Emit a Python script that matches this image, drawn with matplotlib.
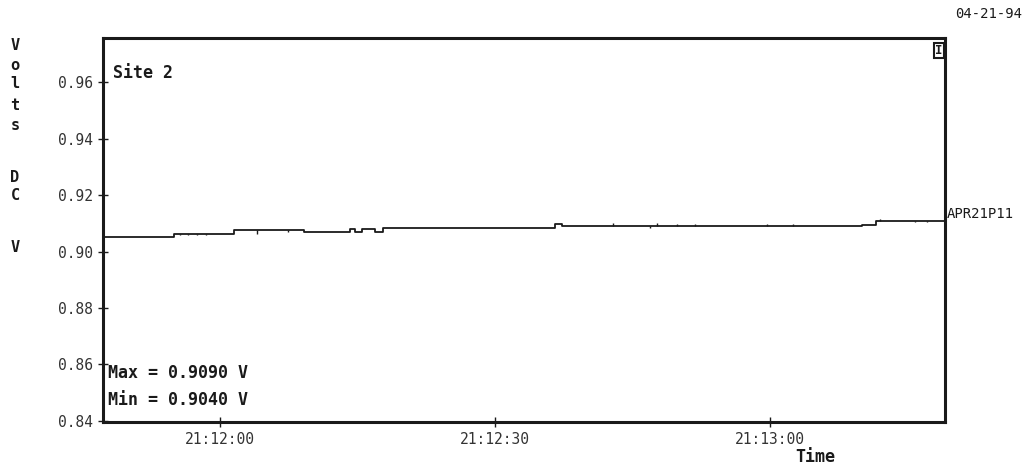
import numpy as np
import matplotlib.pyplot as plt
from matplotlib.ticker import FuncFormatter

# seconds relative to 21:12:00, step levels (V DC)
t_steps = [-12.8, -5.1, 1.5, 9.1, 14.2, 14.7, 15.5, 16.9, 17.8, 36.5, 37.3, 70.1, 71.6, 79.1]
v_steps = [0.9053, 0.9063, 0.9077, 0.9069, 0.9081, 0.9068, 0.9079, 0.9068, 0.9085,
           0.9098, 0.9092, 0.9095, 0.9109, 0.9109]

# short glitches on the trace
glitch_t = [-4.4, -3.5, -2.5, -1.6, 4.0, 7.4, 42.9, 46.9, 47.7, 49.9, 51.8, 59.7, 62.5, 72.0, 75.8, 77.1]
glitch_dv = [-0.0006, -0.0006, -0.0006, -0.0006, -0.0016, -0.0008, 0.0009, -0.0010, 0.0008,
             0.0005, 0.0005, 0.0005, 0.0005, 0.0005, -0.0005, -0.0005]

y_ticks = [0.84, 0.86, 0.88, 0.90, 0.92, 0.94, 0.96]
x_ticks = [0, 30, 60]
x_labels = ['21:12:00', '21:12:30', '21:13:00']

mono = 'DejaVu Sans Mono'
ink = '#1a1a1a'

fig = plt.figure(figsize=(10.28, 4.71), dpi=100)
ax = fig.add_axes([0.1002, 0.104, 0.8190, 0.815])

ax.plot(t_steps, v_steps, drawstyle='steps-post', color=ink, lw=1.3)
lev = [v_steps[np.searchsorted(t_steps, g, side='right') - 1] for g in glitch_t]
ax.vlines(glitch_t, lev, np.array(lev) + np.array(glitch_dv), color=ink, lw=1.0)

ax.set_xlim(-12.8, 79.1)
ax.set_ylim(0.8395, 0.9757)
ax.set_yticks(y_ticks)
ax.set_xticks(x_ticks)
ax.yaxis.set_major_formatter(FuncFormatter(lambda v, p: f'{v:.2f}'))
ax.set_xticklabels(x_labels)
ax.tick_params(axis='both', direction='inout', length=7, width=1, colors=ink,
               labelsize=10.5, labelcolor='#333333')
for lab in ax.get_xticklabels() + ax.get_yticklabels():
    lab.set_family(mono)
for s in ax.spines.values():
    s.set_linewidth(2.2)
    s.set_color(ink)

ax.text(0.012, 0.895, 'Site 2', transform=ax.transAxes, family=mono,
        fontsize=12, fontweight='bold', color=ink)
ax.text(0.006, 0.115, 'Max = 0.9090 V', transform=ax.transAxes, family=mono,
        fontsize=12, fontweight='bold', color=ink)
ax.text(0.006, 0.045, 'Min = 0.9040 V', transform=ax.transAxes, family=mono,
        fontsize=12, fontweight='bold', color=ink)
ax.text(1.002, v_steps[-1] + 0.0025, 'APR21P11', transform=ax.get_yaxis_transform(),
        family=mono, fontsize=10, color=ink, va='center')
ax.text(0.9925, 0.985, 'I', transform=ax.transAxes, family=mono, fontsize=9,
        fontweight='bold', color=ink, va='top', ha='center',
        bbox=dict(boxstyle='square,pad=0.1', fc='white', ec=ink, lw=1.5))

fig.text(1022 / 1028, 1 - 14 / 471, '04-21-94', family=mono, fontsize=10, color=ink,
         ha='right', va='center')
fig.text(0.793, 0.02, 'Time', family=mono, fontsize=12, fontweight='bold', color=ink, ha='center')

ylab = [('V', 45), ('o', 65), ('l', 83), ('t', 106), ('s', 125), ('D', 178), ('C', 196), ('V', 247)]
for ch, yp in ylab:
    fig.text(15 / 1028, 1 - yp / 471, ch, family=mono, fontsize=11, fontweight='bold',
             color=ink, ha='center', va='center')

fig.savefig('out.png', dpi=100)
